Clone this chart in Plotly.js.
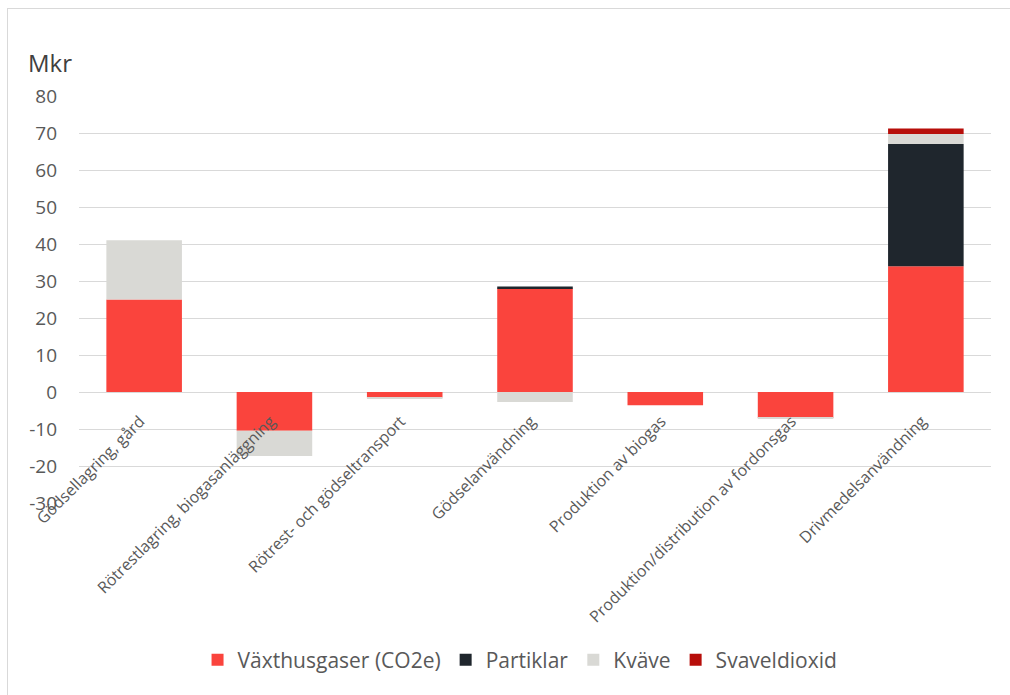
<!DOCTYPE html>
<html>
<head>
<meta charset="utf-8">
<script src="https://cdn.plot.ly/plotly-3.0.1.min.js"></script>
<style>
  html, body { margin: 0; padding: 0; background: #fff; }
  #frame { position: absolute; left: 7px; top: 8px; width: 1010px; height: 700px; border-left: 1.5px solid #d9d9d9; border-top: 1.5px solid #d9d9d9; }
  #chart { position: absolute; left: 0; top: 0; width: 1010px; height: 695px; }
</style>
</head>
<body>
<div id="frame"></div>
<div id="chart"></div>
<script>
const categories = [
  "Gödsellagring, gård",
  "Rötrestlagring, biogasanläggning",
  "Rötrest- och gödseltransport",
  "Gödselanvändning",
  "Produktion av biogas",
  "Produktion/distribution av fordonsgas",
  "Drivmedelsanvändning"
];
const vaxthusgaser = [25, -10.5, -1.5, 28, -3.6, -7.0, 34];
const partiklar    = [0, 0, 0, 0.5, 0, 0, 33];
const kvave        = [16, -6.8, -0.4, -2.7, 0, -0.3, 2.7];
const svaveldioxid = [0, 0, 0, 0, 0, 0, 1.5];
const yTicks = [-30, -20, -10, 0, 10, 20, 30, 40, 50, 60, 70, 80];

const names = ["Växthusgaser (CO2e)", "Partiklar", "Kväve", "Svaveldioxid"];
const colors = ["#FA443D", "#1F262D", "#D9D9D5", "#B70E0A"];
const series = [vaxthusgaser, partiklar, kvave, svaveldioxid];

const traces = series.map((vals, i) => ({
  type: "bar",
  name: names[i],
  x: categories,
  y: vals,
  marker: { color: colors[i], line: { width: 0 } },
  hoverinfo: "x+y+name"
}));

const layout = {
  width: 1010,
  height: 695,
  margin: { l: 79, r: 19, t: 96, b: 192, pad: 0 },
  paper_bgcolor: "rgba(0,0,0,0)",
  plot_bgcolor: "rgba(0,0,0,0)",
  barmode: "relative",
  bargap: 0.42,
  font: { family: "Open Sans, sans-serif", color: "#595959" },
  xaxis: {
    anchor: "free",
    position: 30 / 110,
    tickangle: -45,
    tickfont: { size: 16, color: "#595959" },
    ticklabelshift: -4,
    ticklabelstandoff: 16,
    showgrid: false,
    showline: false,
    ticks: "",
    automargin: false
  },
  yaxis: {
    range: [-30, 80],
    tickvals: yTicks,
    ticktext: yTicks.map(String),
    tickfont: { size: 19, color: "#595959" },
    showgrid: true,
    gridcolor: "#D9D9D9",
    gridwidth: 1.3,
    zeroline: false,
    showline: false,
    ticks: "",
    ticklabelstandoff: 21,
    automargin: false
  },
  legend: {
    orientation: "h",
    x: 0.4836,
    xanchor: "center",
    y: (503 - 660) / 407,
    yanchor: "middle",
    font: { size: 21, color: "#595959" },
    traceorder: "normal",
    itemwidth: 30,
    itemclick: false
  },
  annotations: [{
    text: "Mkr",
    xref: "paper", yref: "paper",
    x: -0.058, y: 1.0 + (96 - 62) / 407,
    xanchor: "left", yanchor: "middle",
    showarrow: false,
    font: { size: 24, color: "#404040" }
  }]
};

Plotly.newPlot("chart", traces, layout, { displayModeBar: false });
</script>
</body>
</html>
